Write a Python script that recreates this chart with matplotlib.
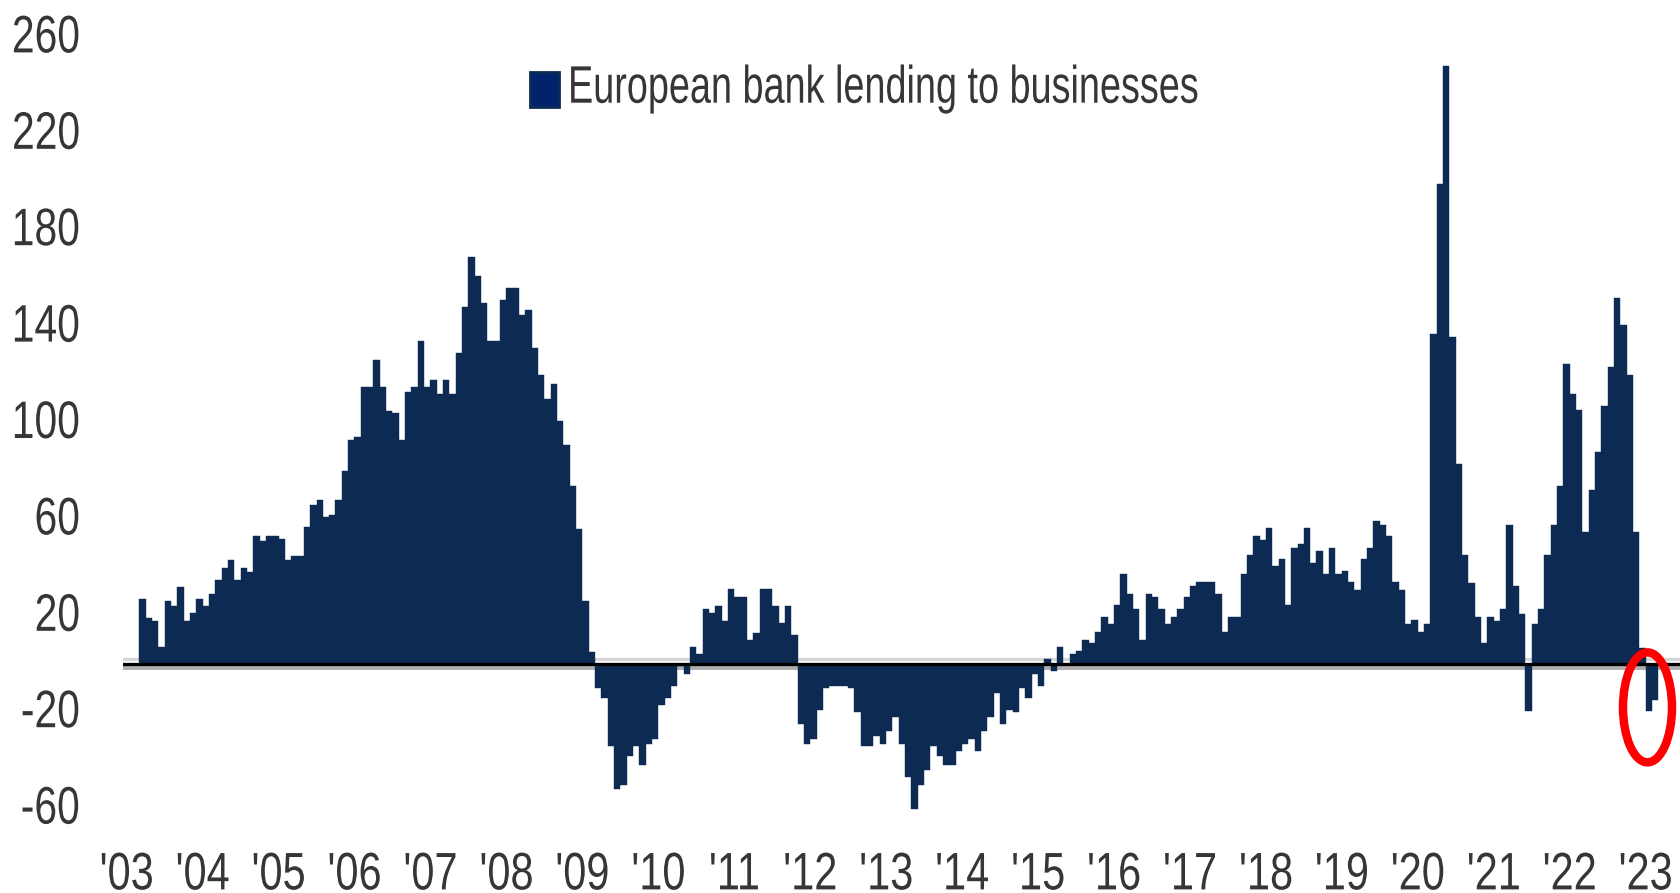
import numpy as np
import matplotlib
matplotlib.use("Agg")
import matplotlib.pyplot as plt
from matplotlib.patches import Ellipse, Rectangle
from matplotlib.patheffects import AbstractPathEffect
from matplotlib.transforms import Affine2D, ScaledTranslation, blended_transform_factory

# ---------------- data (monthly, Mar 2003 .. Feb 2023) ----------------
first_year, first_month = 2003, 3
lending = [
    27, 19, 18, 7, 26, 24, 32, 18, 21, 27, 24, 29,
    35, 40, 43, 35, 40, 38, 53, 51, 53, 53, 52, 43,
    45, 45, 57, 66, 68, 61, 62, 68, 80, 93, 94, 115,
    115, 126, 115, 105, 104, 93, 113, 115, 134, 115, 118, 112,
    118, 112, 129, 148, 169, 161, 150, 134, 134, 151, 156, 156,
    145, 147, 131, 120, 110, 116, 101, 91, 74, 56,
    26, 5, -10, -14, -34, -52, -50, -38, -34, -42,
    -33, -31, -17, -14, -9, -1, -4, 7, 4, 23,
    21, 24, 18, 31, 28, 28, 10, 13, 31, 31,
    24, 17, 24, 12, -25, -33, -31, -19, -10, -9,
    -9, -9, -10, -20, -34, -34, -30, -33, -28, -22,
    -33, -47, -60, -50, -44, -34, -38, -42, -42, -36,
    -33, -31, -36, -28, -22, -12, -25, -19, -20, -10,
    -14, -4, -9, 2, -3,
    7, 0, 4, 5.5, 10, 8.7, 13.4, 19.6, 16.7, 24.6,
    37.5, 29.2, 23, 10, 29.2, 27.9, 23, 16.7, 19.6, 23,
    27.9, 32.5, 34.2, 34.2, 34.2, 29.2, 13.4, 19.6, 19.6, 37.5,
    45.4, 53.3, 51.6, 56.6, 40.5, 43.7, 24.6, 48.3, 49.9, 56.6,
    41.9, 47, 37.5, 48.3, 37.5, 38.7, 34.2, 30.8, 43.7, 48.3,
    59.5, 57.8, 53.3, 34.2, 30.8, 16.7, 18.4, 13.4,
    16.8, 137.1, 199.3, 248.2, 135.6, 83.1, 45.2, 33.8, 19.3, 8.7,
    19.3, 18.0, 22.8, 57.6, 32.3, 20.9, -19.7, 16.8, 22.8, 45.2,
    57.6, 73.8, 124.4, 112, 105.3, 54.7, 72, 87.9, 107, 123.2,
    152, 140.6, 119.8, 54.9, 6.8, -19.7, -15.1,
]
years = list(range(2003, 2024))
year_labels = ["'%02d" % (y % 100) for y in years]
y_ticks = [260, 220, 180, 140, 100, 60, 20, -20, -60]
series_name = "European bank lending to businesses"

# ---------------- styling helpers ----------------
class Stretch(AbstractPathEffect):
    """Scale the glyphs of a Text around its anchor (tall, narrow lettering)."""
    def __init__(self, sx=1.0, sy=1.0):
        super().__init__()
        self.sx, self.sy = sx, sy
        self.artist = None

    def draw_path(self, renderer, gc, tpath, affine, rgbFace=None):
        ax_, ay_ = self.artist.get_transform().transform(self.artist.get_position())
        t = affine + Affine2D().translate(-ax_, -ay_).scale(self.sx, self.sy).translate(ax_, ay_)
        renderer.draw_path(gc, tpath, t, rgbFace)


def narrow(texts, target_width, renderer):
    """Shrink the font so the first text has target_width, then stretch vertically back."""
    s = target_width / texts[0].get_window_extent(renderer).width
    for t in texts:
        t.set_fontsize(t.get_fontsize() * s)
        pe = Stretch(1.0, 1.0 / s)
        pe.artist = t
        t.set_path_effects([pe])


W, H = 1680, 893
BAR = "#0c2a52"
TXT = "#363636"
FONT = ["Liberation Sans", "DejaVu Sans"]
FS = 38

fig = plt.figure(figsize=(W / 100, H / 100), dpi=100)
L = 122.7
ax = fig.add_axes([L / W, 0, 1 - L / W, 1])
ax.axis("off")

px_per_bar = 6.329
first_edge = 139.3
ax.set_xlim(-0.5 - (first_edge - L) / px_per_bar, -0.5 + (W - first_edge) / px_per_bar)
zero_px, ppu = 664.0, 2.41
ax.set_ylim(-(H - zero_px) / ppu, zero_px / ppu)

x = np.arange(len(lending))
ax.bar(x, lending, width=1.0, color=BAR, edgecolor=BAR, linewidth=0.3, zorder=2)

# zero line (black with grey halo)
ax.axhline(1.95, color="#d6d6d6", lw=3.3 * 0.72, zorder=1)
ax.axhline(-1.66, color="#b0b0b0", lw=4.0 * 0.72, zorder=1)
ax.axhline(-0.12, color="black", lw=3.3 * 0.72, zorder=3)

# y labels
ytrans = blended_transform_factory(ax.transAxes, ax.transData) + \
    ScaledTranslation(0, -15 / 100, fig.dpi_scale_trans)
ylabels = []
for v in y_ticks:
    t = ax.text((80 - L) / (W - L), v, str(v), transform=ytrans, ha="right",
                va="baseline", fontsize=FS, family=FONT, color=TXT, clip_on=False)
    ylabels.append(t)

# x labels at the start of each January
xtrans = blended_transform_factory(ax.transData, ax.transAxes)
xlabels = []
for y, lab in zip(years, year_labels):
    pos = (y - first_year) * 12 - (first_month - 1) - 0.5
    t = ax.text(pos, (H - 850) / H, lab, transform=xtrans, ha="center",
                va="top", fontsize=FS, family=FONT, color=TXT, clip_on=False)
    xlabels.append(t)

# legend
fig.add_artist(Rectangle((530 / W, 1 - 106.7 / H), 29 / W, 35 / H,
                         transform=fig.transFigure, facecolor="#00236b",
                         edgecolor=BAR, lw=2))
leg = fig.text(568 / W, 1 - 102.7 / H, series_name, ha="left", va="baseline",
               fontsize=FS, family=FONT, color=TXT)

# red highlight ellipse around latest readings
ax.add_patch(Ellipse((237.8, -18.0), 7.74, 45.6, fill=False, edgecolor="#ff0000",
                     lw=6.1, clip_on=False, zorder=5))

# narrow lettering like the reference
fig.canvas.draw()
r = fig.canvas.get_renderer()
narrow(ylabels, 68.0, r)
narrow(xlabels, 54.0, r)
narrow([leg], 630.0, r)

fig.savefig("out.png", dpi=100)
